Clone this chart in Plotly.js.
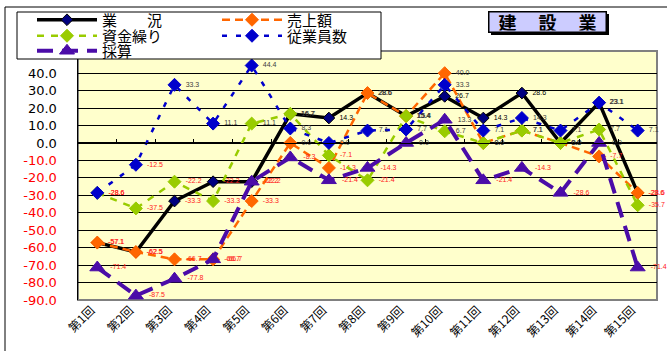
<!DOCTYPE html>
<html><head><meta charset="utf-8">
<script src="https://cdn.plot.ly/plotly-3.0.1.min.js"></script>
<style>html,body{margin:0;padding:0;background:#fff;}#chart{width:667px;height:351px;}</style>
</head><body><div id="chart"></div>
<script>
const categories = ['第1回','第2回','第3回','第4回','第5回','第6回','第7回','第8回','第9回','第10回','第11回','第12回','第13回','第14回','第15回'];
const gyokyo  = [-57.1,-62.5,-33.3,-22.2,-22.2,16.7,14.3,28.6,15.4,26.7,14.3,28.6,0.0,23.1,-28.6];
const uriage  = [-57.1,-62.5,-66.7,-66.7,-33.3,0.0,-14.3,28.6,15.4,40.0,0.0,7.1,0.0,-7.7,-28.6];
const shikin  = [-28.6,-37.5,-22.2,-33.3,11.1,16.7,-7.1,-21.4,15.4,6.7,0.0,7.1,0.0,7.7,-35.7];
const jugyoin = [-28.6,-12.5,33.3,11.1,44.4,8.3,0.0,7.1,7.7,33.3,7.1,14.3,7.1,23.1,7.1];
const saisan  = [-71.4,-87.5,-77.8,-66.7,-22.2,-8.3,-21.4,-14.3,0.0,13.3,-21.4,-14.3,-28.6,0.0,-71.4];
const yTicks  = [-90,-80,-70,-60,-50,-40,-30,-20,-10,0,10,20,30,40];
const seriesNames = ['業　　況','売上額','資金繰り','従業員数','採算'];

const yTickText = yTicks.map(v => v < 0 ? '<span style="color:#ff0000">' + v.toFixed(1) + '</span>' : v.toFixed(1));
const lbl = a => a.map(v => '\u00a0\u00a0' + v.toFixed(1));
const lblColor = (a, pos) => a.map(v => v < 0 ? '#ff2020' : pos);

// paper coordinate helpers (plot area: x 78..657, y 51..300)
const px = x => (x - 78) / 579;
const py = y => (300 - y) / 249;

function series(name, vals, color, width, dash, mSymbol, mSize, mColor, lineCol, posCol, legendId) {
  return {
    type: 'scatter', mode: 'lines+markers+text', name: name,
    x: categories, y: vals,
    text: lbl(vals), textposition: 'middle right',
    textfont: {family: 'Liberation Sans, Arial, sans-serif', size: 7, color: lblColor(vals, posCol)},
    line: {color: color, width: width, dash: dash},
    marker: {symbol: mSymbol, size: mSize, color: mColor, line: {color: lineCol, width: 1}},
    cliponaxis: false, legend: legendId, hoverinfo: 'x+y+name'
  };
}

const traces = [
  series(seriesNames[0], gyokyo, '#000000', 3.5, 'solid', 'diamond', 9, '#000080', '#000000', '#000000', 'legend'),
  series(seriesNames[1], uriage, '#ff6600', 2.5, '8px,5px', 'diamond', 10, '#ff6600', '#ff6600', '#404040', 'legend2'),
  series(seriesNames[2], shikin, '#99cc00', 2.5, '7px,7px', 'diamond', 10, '#99cc00', '#99cc00', '#404040', 'legend3'),
  series(seriesNames[3], jugyoin, '#0000cc', 2.5, '5px,9px', 'diamond', 10, '#0000cc', '#0000cc', '#404040', 'legend4'),
  series(seriesNames[4], saisan, '#4b0ca8', 4, '16px,9px', 'triangle-up', 13, '#4b0ca8', '#4b0ca8', '#404040', 'legend5'),
  {type: 'scatter', x: [], y: [], xaxis: 'x2', showlegend: false, hoverinfo: 'skip'}
];

const legFont = {family: 'Noto Sans CJK JP, sans-serif', size: 15, color: '#000'};
function leg(x, y) {
  return {x: x, y: y, xanchor: 'left', yanchor: 'middle', bgcolor: 'rgba(0,0,0,0)', borderwidth: 0,
          font: legFont, itemwidth: 60, itemclick: false, itemdoubleclick: false};
}

const layout = {
  width: 667, height: 351,
  margin: {l: 78, r: 10, t: 51, b: 51, autoexpand: false},
  paper_bgcolor: '#ffffff', plot_bgcolor: '#ffffcc',
  xaxis: {type: 'category', range: [-0.5, 14.5], showgrid: false, zeroline: false, showline: false,
          ticks: '', tickangle: -45, ticklabelshift: -6,
          tickfont: {family: 'Noto Sans CJK JP, sans-serif', size: 12, color: '#000'}},
  xaxis2: {type: 'linear', overlaying: 'x', anchor: 'free', position: 90 / 142.7, side: 'bottom',
           range: [-0.5, 14.5], showgrid: false, zeroline: false, showline: true, linecolor: '#000', linewidth: 1,
           ticks: 'inside', ticklen: 4, tickcolor: '#000', tickwidth: 1,
           tickvals: [0.5,1.5,2.5,3.5,4.5,5.5,6.5,7.5,8.5,9.5,10.5,11.5,12.5,13.5], showticklabels: false},
  yaxis: {range: [-90, 52.7], tickvals: yTicks, ticktext: yTickText, showgrid: true, gridcolor: '#000', gridwidth: 1,
          zeroline: true, zerolinecolor: '#000', zerolinewidth: 1, showline: true, linecolor: '#000', linewidth: 1.5,
          ticks: '', ticklabelstandoff: 17,
          tickfont: {family: 'DejaVu Sans, sans-serif', size: 13, color: '#000'}},
  showlegend: true,
  legend: leg(px(32), py(20)),
  legend2: leg(px(217), py(20)),
  legend3: leg(px(32), py(36)),
  legend4: leg(px(217), py(36)),
  legend5: leg(px(32), py(51)),
  shapes: [
    {type: 'rect', xref: 'paper', yref: 'paper', x0: 0, x1: 1, y0: 0, y1: 1, line: {color: '#808080', width: 2}, layer: 'below'},
    {type: 'line', xref: 'paper', yref: 'paper', x0: px(5), x1: px(5), y0: py(351), y1: py(7), line: {color: '#000', width: 1}},
    {type: 'line', xref: 'paper', yref: 'paper', x0: px(5), x1: px(667), y0: py(7), y1: py(7), line: {color: '#000', width: 1}},
    {type: 'rect', xref: 'paper', yref: 'paper', x0: px(17), x1: px(381), y0: py(59), y1: py(12),
     fillcolor: '#ffffff', line: {color: '#000', width: 1}, layer: 'above'},
    {type: 'rect', xref: 'paper', yref: 'paper', x0: px(491), x1: px(609), y0: py(35), y1: py(14),
     fillcolor: '#000', line: {color: '#000', width: 0}, layer: 'above'}
  ],
  annotations: [
    {text: '<b>建　 設　 業</b>', xref: 'paper', yref: 'paper', x: px(547), y: py(22), xanchor: 'center', yanchor: 'middle',
     showarrow: false, width: 114, height: 17, align: 'center', bgcolor: '#ccccff', bordercolor: '#000', borderwidth: 1.5, borderpad: 1,
     font: {family: 'Noto Sans CJK JP, sans-serif', size: 18, color: '#000'}}
  ]
};

Plotly.newPlot('chart', traces, layout, {displayModeBar: false, staticPlot: true});
</script>
</body></html>
